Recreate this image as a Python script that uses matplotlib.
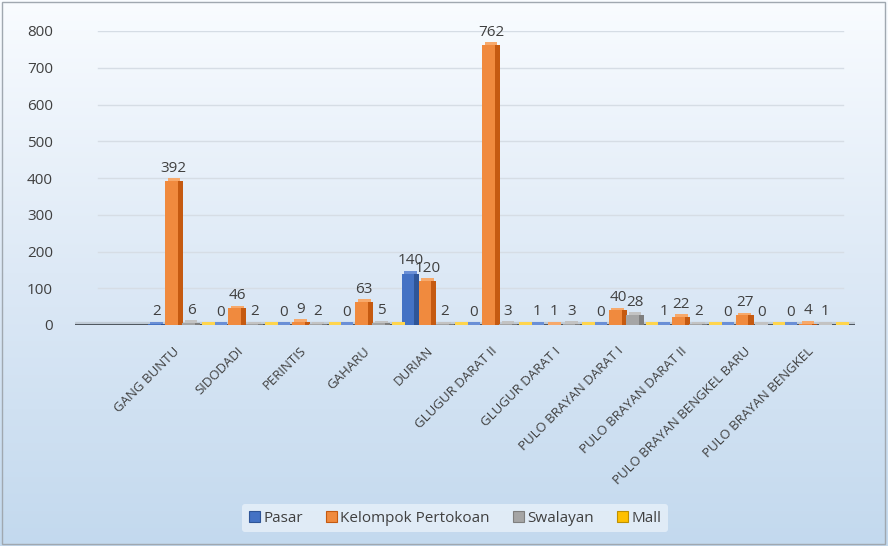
import numpy as np
import matplotlib
matplotlib.use("Agg")
import matplotlib.pyplot as plt
from matplotlib.colors import LinearSegmentedColormap

plt.rcParams['font.family'] = ['Open Sans', 'DejaVu Sans']

categories = ["GANG BUNTU", "SIDODADI", "PERINTIS", "GAHARU", "DURIAN",
              "GLUGUR DARAT II", "GLUGUR DARAT I", "PULO BRAYAN DARAT I",
              "PULO BRAYAN DARAT II", "PULO BRAYAN BENGKEL BARU", "PULO BRAYAN BENGKEL"]
pasar = [2, 0, 0, 0, 140, 0, 1, 0, 1, 0, 0]
kelompok = [392, 46, 9, 63, 120, 762, 1, 40, 22, 27, 4]
swalayan = [6, 2, 2, 5, 2, 3, 3, 28, 2, 0, 1]
mall = [0, 0, 0, 0, 0, 0, 0, 0, 0, 0, 0]
series_names = ["Pasar", "Kelompok Pertokoan", "Swalayan", "Mall"]
yticks = [0, 100, 200, 300, 400, 500, 600, 700, 800]

front = ["#4472C4", "#F08A3E", "#A5A5A5", "#FFC000"]
side = ["#2F5597", "#C55A11", "#7F7F7F", "#BF9000"]
top = ["#6A8FD6", "#F7A96B", "#C3C3C3", "#FFD54D"]
show_label = [True, True, True, False]

fig = plt.figure(figsize=(8.88, 5.46), dpi=100)

# background gradient
bg = fig.add_axes([0, 0, 1, 1], zorder=-10)
grad = np.linspace(0, 1, 256).reshape(-1, 1)
cmap = LinearSegmentedColormap.from_list("bg", ["#f9fcff", "#dde9f6", "#c3d9ee"])
bg.imshow(grad, aspect="auto", cmap=cmap, extent=[0, 1, 0, 1], origin="upper")
bg.set_xlim(0, 1); bg.set_ylim(0, 1)
bg.axis("off")
bg.add_patch(plt.Rectangle((0.002, 0.003), 0.995, 0.993, fill=False,
                           edgecolor="#a0a8b0", lw=1.0))

ax = fig.add_axes([75/888, 1 - 325/546, (855-75)/888, (325-31)/546])
ax.set_facecolor("none")
ax.set_xlim(-1.67, 10.63)
ax.set_ylim(0, 800)

x = np.arange(len(categories))
data = [pasar, kelompok, swalayan, mall]
w = 0.2
depth = 0.08
topv = 7
offsets = [-0.52, -0.25, 0.02, 0.29]

for gy in yticks[1:]:
    ax.axhline(gy, xmin=0.03, xmax=0.985, color="#d6dde5", lw=1.0, zorder=0)

# floor
ax.axhspan(0, 8, xmin=0.0, xmax=1.0, color="#b9c2cc", alpha=0.6, zorder=1)
ax.axhline(0, color="#505860", lw=2.2, zorder=2)

for k, vals in enumerate(data):
    xs = x + offsets[k]
    ax.bar(xs, vals, width=w, align="edge", color=front[k], zorder=3, lw=0)
    ax.bar(xs + w, vals, width=depth, align="edge", color=side[k], zorder=3, lw=0)
    ax.bar(xs + depth/2, [topv]*len(vals), bottom=vals, width=w, align="edge",
           color=top[k], zorder=3, lw=0)
    if show_label[k]:
        for xi, v in zip(xs, vals):
            ax.text(xi + w/2 + depth/2, v + 14, str(v), ha="center", va="bottom",
                    fontsize=11, color="#404040", zorder=5)

ax.set_xticks(x - 0.12)
ax.set_xticklabels(categories, rotation=45, ha="right", va="top",
                   rotation_mode="anchor", fontsize=9.5, color="#404040")
ax.tick_params(axis="x", length=0, pad=14)
ax.set_yticks(yticks)
ax.set_yticklabels([str(v) for v in yticks], fontsize=11, color="#404040")
ax.tick_params(axis="y", length=0, pad=16)
for s in ax.spines.values():
    s.set_visible(False)

handles = [plt.Rectangle((0, 0), 1, 1, facecolor=front[k], edgecolor=side[k], lw=0.8)
           for k in range(4)]
leg = fig.legend(handles, series_names, loc="center", bbox_to_anchor=(455/888, 1 - 518/546),
                 ncol=4, frameon=True, fontsize=11, handlelength=0.75, handleheight=0.75,
                 handletextpad=0.2, columnspacing=1.5, borderpad=0.45)
leg.get_frame().set_facecolor("#e4eef8")
leg.get_frame().set_edgecolor("none")
leg.get_frame().set_alpha(0.9)
for t in leg.get_texts():
    t.set_color("#404040")

fig.savefig("out.png", dpi=100)
